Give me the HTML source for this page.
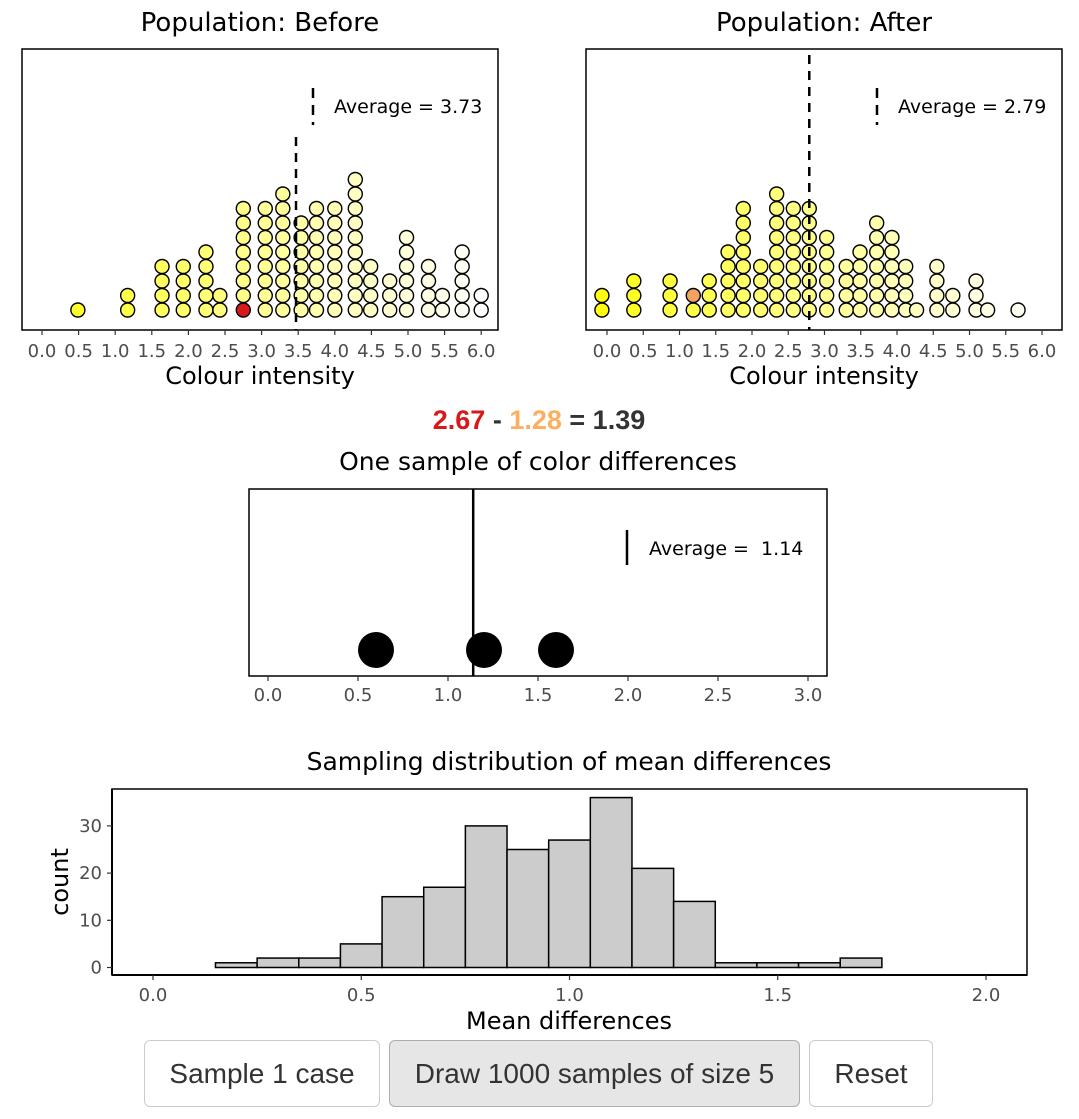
<!DOCTYPE html>
<html><head><meta charset="utf-8"><style>
html,body{margin:0;padding:0;background:#fff;width:1079px;height:1119px;overflow:hidden}
svg text{font-family:"DejaVu Sans","Liberation Sans",sans-serif;white-space:pre}
.btn{position:absolute;top:1040px;height:67px;border:1.5px solid #ccc;border-radius:6px;background:#fff;font-family:"Liberation Sans",sans-serif;font-size:28px;color:#333;display:flex;align-items:center;justify-content:center;box-sizing:border-box}
</style></head><body>
<svg id="s" width="1079" height="1119" style="position:absolute;left:0;top:0"></svg>
<div class="btn" style="left:144px;width:236px">Sample 1 case</div>
<div class="btn" style="left:389px;width:411px;background:#e6e6e6;border-color:#adadad">Draw 1000 samples of size 5</div>
<div class="btn" style="left:809px;width:124px">Reset</div>
<script>
// Before population columns: value and count
const beforeVals=[0.49,1.17,1.64,1.93,2.24,2.43,2.75,3.05,3.29,3.54,3.75,4.0,4.28,4.49,4.75,4.98,5.28,5.47,5.74,6.0];
const beforeCounts=[1,2,4,4,5,2,8,8,9,7,8,8,10,4,3,6,4,2,5,2];
const beforeMean=3.47, beforeLabel="Average = 3.73";
const afterVals=[-0.07,0.37,0.87,1.19,1.41,1.67,1.88,2.12,2.34,2.57,2.79,3.03,3.3,3.49,3.72,3.93,4.12,4.27,4.55,4.77,5.09,5.25,5.67];
const afterCounts=[2,3,3,2,3,5,8,4,9,8,8,6,4,5,7,6,4,1,4,2,3,1,1];
const afterMean=2.79, afterLabel="Average = 2.79";
const popTicks=[0,0.5,1,1.5,2,2.5,3,3.5,4,4.5,5,5.5,6];
const sampleVals=[0.6,1.2,1.6];
const sampleMean=1.14;
const sampleTicks=[0,0.5,1,1.5,2,2.5,3];
const binStarts=[0.15,0.25,0.35,0.45,0.55,0.65,0.75,0.85,0.95,1.05,1.15,1.25,1.35,1.45,1.55,1.65];
const binCounts=[1,2,2,5,15,17,30,25,27,36,21,14,1,1,1,2];
const histXTicks=[0,0.5,1,1.5,2];
const histYTicks=[0,10,20,30];

const S=document.getElementById('s');
const NS='http://www.w3.org/2000/svg';
function el(t,a,p){const e=document.createElementNS(NS,t);for(const k in a)e.setAttribute(k,a[k]);(p||S).appendChild(e);return e;}
function txt(x,y,s,size,anchor,fill,p){const t=el('text',{x:x,y:y,'font-size':size,'text-anchor':anchor||'middle',fill:fill||'#000'},p);t.textContent=s;return t;}
function fillFor(v){const t=Math.max(0,Math.min(1,(v+0.3)/6.3));const b=Math.round(255*Math.pow(t,0.85));return `rgb(255,255,${b})`;}

function popPlot(x0,x1,zeroX,perUnit,vals,counts,mean,label,title,name,special,topY){
  const g=el('g',{});
  
  
  const xs=v=>zeroX+v*perUnit;
  const t=txt((x0+x1)/2,31,title,26,'middle','#000',g);
  
  el('rect',{x:x0,y:49,width:x1-x0,height:281,fill:'#fff',stroke:'#000','stroke-width':1.5},g);
  for(let i=0;i<vals.length;i++){
    for(let j=0;j<counts[i];j++){
      let f=fillFor(vals[i]);
      if(special(i,j))f=special(i,j);
      const c=el('circle',{cx:xs(vals[i]),cy:310-j*14.5,r:7,fill:f,stroke:'#000','stroke-width':1.4},g);
      
    }
  }
  const mx=xs(mean);
  const ml=el('line',{x1:mx,x2:mx,y1:topY,y2:330,stroke:'#000','stroke-width':2.5,'stroke-dasharray':'9,7'},g);
  
  const lx=x1-185;
  el('line',{x1:lx,x2:lx,y1:88,y2:125,stroke:'#000','stroke-width':2.5,'stroke-dasharray':'10,7'},g);
  const lt=txt(lx+21,113,label,19,'start','#000',g);
  
  for(const v of popTicks){
    el('line',{x1:xs(v),x2:xs(v),y1:330,y2:335,stroke:'#333','stroke-width':1.2},g);
    txt(xs(v),357,v.toFixed(1),18,'middle','#4d4d4d',g);
  }
  const xt=txt((x0+x1)/2,384,'Colour intensity',24,'middle','#000',g);
  
}
popPlot(22,498,42,73.2,beforeVals,beforeCounts,beforeMean,beforeLabel,'Population: Before','before-plot',(i,j)=>(i===6&&j===0)?'#d7191c':null,137);
popPlot(586,1062,607,72.5,afterVals,afterCounts,afterMean,afterLabel,'Population: After','after-plot',(i,j)=>(i===3&&j===1)?'#f4a261':null,55);

// equation
const eq=el('text',{x:539,y:429,'text-anchor':'middle','font-size':27,'font-weight':'bold',style:'font-family:"Liberation Sans",sans-serif'});

[['2.67','#d7191c'],[' - ','#333'],['1.28','#fdae61'],[' = ','#333'],['1.39','#333']].forEach(([s,c])=>{const ts=el('tspan',{fill:c},eq);ts.textContent=s;});

// sample plot
(function(){
  const g=el('g',{});
  
  const xs=v=>268+v*180;
  txt(538,470,'One sample of color differences',25,'middle','#000',g);
  el('rect',{x:249,y:489,width:578,height:187,fill:'#fff',stroke:'#000','stroke-width':1.5},g);
  const ml=el('line',{x1:xs(sampleMean),x2:xs(sampleMean),y1:489,y2:676,stroke:'#000','stroke-width':2.5},g);
  
  for(const v of sampleVals){const c=el('circle',{cx:xs(v),cy:650,r:18,fill:'#000'},g);}
  el('line',{x1:627,x2:627,y1:530,y2:565,stroke:'#000','stroke-width':2.5},g);
  txt(649,555,'Average =  1.14',19,'start','#000',g);
  for(const v of sampleTicks){el('line',{x1:xs(v),x2:xs(v),y1:676,y2:681,stroke:'#333','stroke-width':1.2},g);txt(xs(v),701,v.toFixed(1),18,'middle','#4d4d4d',g);}
})();

// histogram
(function(){
  const g=el('g',{});
  
  const xs=v=>153+v*416.5, ys=c=>967.5-c*4.72;
  txt(569,770,'Sampling distribution of mean differences',25,'middle','#000',g);
  el('rect',{x:112,y:789,width:915,height:186,fill:'#fff',stroke:'#000','stroke-width':1.5},g);
  for(let i=0;i<binStarts.length;i++){
    const r=el('rect',{x:xs(binStarts[i]),y:ys(binCounts[i]),width:xs(binStarts[i]+0.1)-xs(binStarts[i]),height:ys(0)-ys(binCounts[i]),fill:'#cccccc',stroke:'#000','stroke-width':1.5},g);
    
  }
  el('line',{x1:112,x2:112,y1:789,y2:975,stroke:'#000','stroke-width':2},g);
  el('line',{x1:112,x2:1027,y1:975,y2:975,stroke:'#000','stroke-width':2},g);
  for(const v of histXTicks){el('line',{x1:xs(v),x2:xs(v),y1:975,y2:980,stroke:'#333','stroke-width':1.2},g);txt(xs(v),1001,v.toFixed(1),18,'middle','#4d4d4d',g);}
  for(const c of histYTicks){el('line',{x1:107,x2:112,y1:ys(c),y2:ys(c),stroke:'#333','stroke-width':1.2},g);txt(102,ys(c)+6,String(c),18,'end','#4d4d4d',g);}
  txt(569,1029,'Mean differences',24,'middle','#000',g);
  const yt=txt(0,0,'count',24,'middle','#000',g);yt.setAttribute('transform','translate(68,882) rotate(-90)');
  
})();
</script>
</body></html>
